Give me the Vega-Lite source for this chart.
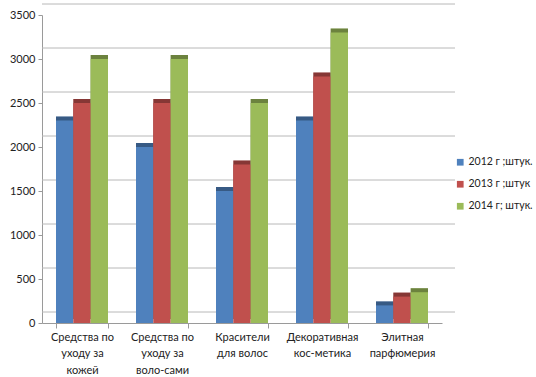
{
  "$schema": "https://vega.github.io/schema/vega-lite/v6.json",
  "width": 400,
  "height": 308,
  "autosize": "none",
  "padding": {"left": 42, "top": 15, "right": 94, "bottom": 54},
  "background": "white",
  "config": {
    "view": {"stroke": null},
    "font": "Lato",
    "axis": {"labelFont": "Lato", "labelFontSize": 11, "labelColor": "#222222"},
    "legend": {"labelFont": "Lato", "labelFontSize": 10.5, "labelColor": "#222222"}
  },
  "datasets": {
    "bars": [
      {"category": "Средства по уходу за кожей", "series": "2012 г ;штук.", "value": 2300},
      {"category": "Средства по уходу за кожей", "series": "2013 г ;штук", "value": 2500},
      {"category": "Средства по уходу за кожей", "series": "2014 г; штук.", "value": 3000},
      {"category": "Средства по уходу за воло-сами", "series": "2012 г ;штук.", "value": 2000},
      {"category": "Средства по уходу за воло-сами", "series": "2013 г ;штук", "value": 2500},
      {"category": "Средства по уходу за воло-сами", "series": "2014 г; штук.", "value": 3000},
      {"category": "Красители для волос", "series": "2012 г ;штук.", "value": 1500},
      {"category": "Красители для волос", "series": "2013 г ;штук", "value": 1800},
      {"category": "Красители для волос", "series": "2014 г; штук.", "value": 2500},
      {"category": "Декоративная кос-метика", "series": "2012 г ;штук.", "value": 2300},
      {"category": "Декоративная кос-метика", "series": "2013 г ;штук", "value": 2800},
      {"category": "Декоративная кос-метика", "series": "2014 г; штук.", "value": 3300},
      {"category": "Элитная парфюмерия", "series": "2012 г ;штук.", "value": 200},
      {"category": "Элитная парфюмерия", "series": "2013 г ;штук", "value": 300},
      {"category": "Элитная парфюмерия", "series": "2014 г; штук.", "value": 350}
    ],
    "grid": [
      {"g": 0}, {"g": 500}, {"g": 1000}, {"g": 1500}, {"g": 2000}, {"g": 2500}, {"g": 3000}, {"g": 3500}
    ]
  },
  "layer": [
    {
      "data": {"name": "grid"},
      "mark": {"type": "rule", "color": "#b8b8b8", "strokeWidth": 1, "xOffset": 13, "yOffset": -11},
      "encoding": {
        "y": {
          "field": "g",
          "type": "quantitative",
          "scale": {"domain": [0, 3500], "nice": false},
          "axis": {
            "title": null,
            "grid": false,
            "format": "d",
            "values": [0, 500, 1000, 1500, 2000, 2500, 3000, 3500],
            "domainColor": "#9a9a9a",
            "tickColor": "#9a9a9a",
            "tickSize": 4,
            "labelPadding": 3
          }
        }
      }
    },
    {
      "data": {"name": "bars"},
      "layer": [
        {
          "mark": {"type": "bar", "xOffset": 5, "yOffset": -4},
          "encoding": {
            "color": {"field": "series", "type": "nominal"}
          }
        },
        {
          "mark": {"type": "bar", "xOffset": 5, "yOffset": -4, "color": "black", "opacity": 0.3}
        },
        {
          "mark": {"type": "bar"},
          "encoding": {
            "color": {
              "field": "series",
              "type": "nominal",
              "sort": ["2012 г ;штук.", "2013 г ;штук", "2014 г; штук."],
              "scale": {"domain": ["2012 г ;штук.", "2013 г ;штук", "2014 г; штук."], "range": ["#4F81BD", "#C0504D", "#9BBB59"]},
              "legend": {
                "title": null,
                "orient": "none",
                "legendX": 413,
                "legendY": 142,
                "symbolType": "square",
                "symbolSize": 45,
                "symbolStrokeWidth": 0,
                "labelOffset": 3,
                "labelLimit": 200,
                "rowPadding": 11
              }
            }
          }
        }
      ],
      "encoding": {
        "x": {
          "field": "category",
          "type": "nominal",
          "sort": null,
          "scale": {"paddingInner": 0.35, "paddingOuter": 0.175},
          "axis": {
            "title": null,
            "labelAngle": 0,
            "domainColor": "#9a9a9a",
            "tickColor": "#9a9a9a",
            "tickBand": "extent",
            "tickSize": 5,
            "labelPadding": 3,
            "labelLineHeight": 16.5,
            "labelExpr": "datum.value == 'Средства по уходу за кожей' ? ['Средства по', 'уходу за', 'кожей'] : datum.value == 'Средства по уходу за воло-сами' ? ['Средства по', 'уходу за', 'воло-сами'] : datum.value == 'Красители для волос' ? ['Красители', 'для волос'] : datum.value == 'Декоративная кос-метика' ? ['Декоративная', 'кос-метика'] : datum.value == 'Элитная парфюмерия' ? ['Элитная', 'парфюмерия'] : ''"
          }
        },
        "xOffset": {
          "field": "series",
          "type": "nominal",
          "sort": ["2012 г ;штук.", "2013 г ;штук", "2014 г; штук."],
          "scale": {"paddingInner": 0, "paddingOuter": 0}
        },
        "y": {
          "field": "value",
          "type": "quantitative",
          "scale": {"domain": [0, 3500], "nice": false},
          "axis": {
            "title": null,
            "grid": false,
            "format": "d",
            "values": [0, 500, 1000, 1500, 2000, 2500, 3000, 3500],
            "domainColor": "#9a9a9a",
            "tickColor": "#9a9a9a",
            "tickSize": 4,
            "labelPadding": 3
          }
        }
      }
    }
  ]
}
